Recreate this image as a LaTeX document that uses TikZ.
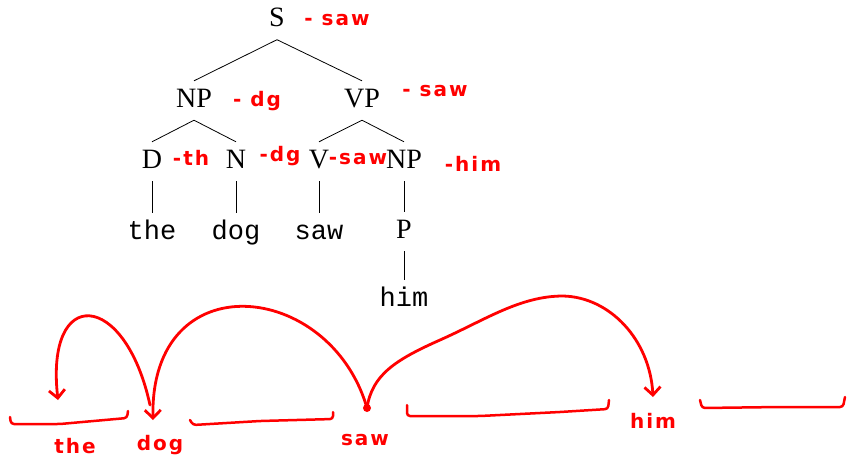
\documentclass[tikz,border=0pt]{standalone}
\usepackage{fontspec}
\setmainfont{Liberation Serif}
\setmonofont{Liberation Mono}
\newfontfamily\handfont[LetterSpace=10]{DejaVu Sans}
\usetikzlibrary{arrows.meta}
\definecolor{ink}{RGB}{255,0,0}
\begin{document}
\begin{tikzpicture}[x=1pt,y=-1pt,
  cat/.style={anchor=base, font=\fontsize{28}{30}\selectfont, text height=19pt, text depth=6pt, inner xsep=1pt, inner ysep=7pt},
  leaf/.style={cat, font=\ttfamily\fontsize{27}{30}\selectfont},
  hand/.style={anchor=base, text=ink, font=\handfont\bfseries\fontsize{20}{20}\selectfont, inner sep=0pt},
  edge/.style={line width=0.8pt},
  arc/.style={draw=ink, line width=2.8pt, line cap=round, line join=round},
  tip/.style={-{Straight Barb[length=8pt,width=16pt]}},
  brack/.style={arc, line width=2.5pt, rounded corners=3pt}
]
\useasboundingbox (0,0) rectangle (848,459);
% tree
\node[cat] (S) at (277,26.5) {S};
\node[cat] (NP) at (194,107) {NP};
\node[cat] (VP) at (362,107) {VP};
\node[cat] (D) at (152,168) {D};
\node[cat] (N) at (236,168) {N};
\node[cat] (V) at (319,168) {V};
\node[cat] (NPb) at (404,168) {NP};
\node[leaf] (the) at (152,239) {the};
\node[leaf] (dog) at (236,239) {dog};
\node[leaf] (saw) at (319,239) {saw};
\node[cat] (P) at (404,238) {P};
\node[leaf] (him) at (404,306) {him};
\draw[edge] (S.south) -- (NP.north);
\draw[edge] (S.south) -- (VP.north);
\draw[edge] (NP.south) -- (D.north);
\draw[edge] (NP.south) -- (N.north);
\draw[edge] (VP.south) -- (V.north);
\draw[edge] (VP.south) -- (NPb.north);
\draw[edge] (D.south) -- (the.north);
\draw[edge] (N.south) -- (dog.north);
\draw[edge] (V.south) -- (saw.north);
\draw[edge] (NPb.south) -- (P.north);
\draw[edge] (P.south) -- (him.north);
% red head annotations
\node[hand] (lS) at (337,25) {- saw};
\node[hand] (lNP) at (257,106) {- dg};
\node[hand] (lVP) at (435,96) {- saw};
\node[hand] (lD) at (191,165) {-th};
\node[hand] (lN) at (280,161) {-dg};
\node[hand] (lV) at (358,164) {-saw};
\node[hand] (lNPb) at (473,171) {-him};
% bottom words
\node[hand] (wthe) at (75,453) {the};
\node[hand] (wdog) at (160,450) {dog};
\node[hand] (wsaw) at (365,445) {saw};
\node[hand] (whim) at (653,428) {him};
% arc ends
\coordinate (sawdot) at (367,408);
\coordinate (dogtip) at (153,420);
\coordinate (dogfoot) at (150,405);
\coordinate (thetip) at (58,400);
\coordinate (himtip) at (653,397);
\draw[arc, tip] (dogfoot) .. controls (125,290) and (45,285) .. (thetip);
\draw[arc, tip] (sawdot) .. controls (330,280) and (150,262) .. (dogtip);
\draw[arc, tip] (sawdot) .. controls (372,375) and (395,360) .. (440,340)
  .. controls (485,320) and (520,296) .. (563,296)
  .. controls (610,297) and (650,340) .. (himtip);
\fill[ink] (sawdot) circle (4pt);
% brackets
\draw[brack] (10,417) -- (11,424) -- (60,424) -- (127,418) -- (128,411);
\draw[brack] (190,420) -- (193,425) -- (260,421) -- (333,419) -- (333,412);
\draw[brack] (407,405) -- (407,416) -- (480,416) -- (560,412) -- (608,409) -- (609,400);
\draw[brack] (700,400) -- (702,408) -- (780,407) -- (843,407) -- (845,397);
\end{tikzpicture}
\end{document}
